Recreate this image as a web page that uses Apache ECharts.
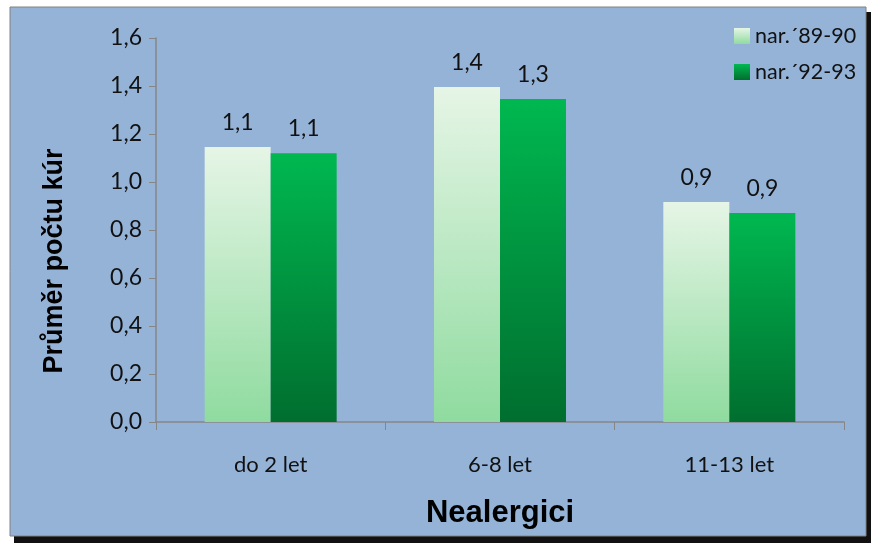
<!DOCTYPE html>
<html><head><meta charset="utf-8">
<script src="https://cdn.jsdelivr.net/npm/echarts@6/dist/echarts.min.js"></script>
<style>html,body{margin:0;padding:0;background:#fff}#c{width:871px;height:543px}</style>
</head><body><div id="c"></div>
<script>
const categories = ['do 2 let', '6-8 let', '11-13 let'];
const seriesNames = ['nar.´89-90', 'nar.´92-93'];
const values8990 = [1.146, 1.396, 0.917];
const values9293 = [1.12, 1.346, 0.871];
const yTicks = [0, 0.2, 0.4, 0.6, 0.8, 1.0, 1.2, 1.4, 1.6];

const fnt = 'Lato, "Open Sans", sans-serif';
const fmt = v => v.toFixed(1).replace('.', ',');
const lightGrad = new echarts.graphic.LinearGradient(0, 0, 0, 1, [
  {offset: 0, color: '#E6F5E6'}, {offset: 1, color: '#8FDB9F'}]);
const darkGrad = new echarts.graphic.LinearGradient(0, 0, 0, 1, [
  {offset: 0, color: '#00B850'}, {offset: 1, color: '#006E2F'}]);

const chart = echarts.init(document.getElementById('c'), null, {renderer: 'canvas'});
chart.setOption({
  backgroundColor: '#ffffff',
  animation: false,
  graphic: [
    {type: 'rect', z: -20, shape: {x: 14, y: 12, width: 857, height: 531}, style: {fill: '#111'}},
    {type: 'rect', z: -10, shape: {x: 10, y: 7, width: 856, height: 529}, style: {fill: '#95B3D7', stroke: '#808080', lineWidth: 1}},
    {type: 'text', z: 10, x: 55, y: 261, rotation: Math.PI / 2,
      style: {text: 'Průměr počtu kúr', font: 'bold 27px "Liberation Sans", Arial, sans-serif', fill: '#000', textAlign: 'center', textVerticalAlign: 'middle'}}
  ],
  grid: {left: 156, top: 38, width: 688, height: 384, containLabel: false},
  legend: {
    orient: 'vertical', left: 729, top: 20, itemGap: 14, itemWidth: 16, itemHeight: 16, icon: 'rect',
    textStyle: {fontFamily: fnt, fontSize: 21.5, color: '#111'},
    data: seriesNames
  },
  xAxis: {
    type: 'category', data: categories,
    name: 'Nealergici', nameLocation: 'middle', nameGap: 76,
    nameTextStyle: {fontFamily: '"Liberation Sans", Arial, sans-serif', fontWeight: 'bold', fontSize: 31, color: '#000'},
    axisLine: {lineStyle: {color: '#868686', width: 1.5}},
    axisTick: {show: true, length: 8, lineStyle: {color: '#868686'}},
    axisLabel: {fontFamily: fnt, fontSize: 22, color: '#111', margin: 32}
  },
  yAxis: {
    type: 'value', min: 0, max: 1.6, interval: 0.2,
    axisLine: {show: true, lineStyle: {color: '#868686', width: 1.5}},
    axisTick: {show: true, length: 7, lineStyle: {color: '#868686'}},
    splitLine: {show: false},
    axisLabel: {fontFamily: fnt, fontSize: 23, color: '#111', margin: 14,
      formatter: v => { const t = yTicks.find(x => Math.abs(x - v) < 1e-6); return fmt(t !== undefined ? t : v); }}
  },
  series: [
    {name: seriesNames[0], type: 'bar', data: values8990, barWidth: 66, barGap: '0%',
      itemStyle: {color: lightGrad},
      label: {show: true, position: 'top', distance: 13, formatter: p => fmt(p.value), fontFamily: fnt, fontSize: 23, color: '#111'}},
    {name: seriesNames[1], type: 'bar', data: values9293, barWidth: 66, barGap: '0%',
      itemStyle: {color: darkGrad},
      label: {show: true, position: 'top', distance: 13, formatter: p => fmt(p.value), fontFamily: fnt, fontSize: 23, color: '#111'}}
  ]
});
</script></body></html>
